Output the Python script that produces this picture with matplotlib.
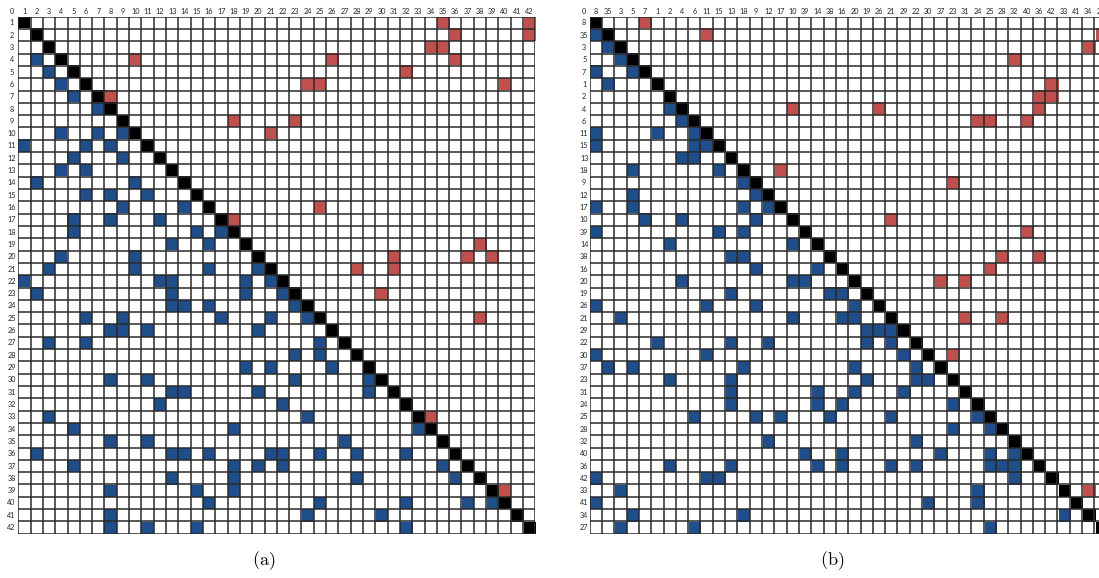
import numpy as np
import matplotlib
matplotlib.use("Agg")
import matplotlib.pyplot as plt
from matplotlib.colors import ListedColormap

plt.rcParams['mathtext.fontset'] = 'cm'

# node labels of the original ordering (a) and the reordered one (b)
nodes = list(range(1, 43))
order_b = [8, 35, 3, 5, 7, 1, 2, 4, 6, 11, 15, 13, 18, 9, 12, 17, 10, 39, 14, 38,
           16, 20, 19, 26, 21, 29, 22, 30, 37, 23, 31, 24, 25, 28, 32, 40, 36, 42,
           33, 41, 34, 27]

# marked cells of matrix (a): row -> columns
links = {
    1: [35, 42], 2: [36, 42], 3: [34, 35], 4: [2, 10, 26, 36], 5: [3, 32],
    6: [4, 24, 25, 40], 7: [5, 8], 8: [7], 9: [18, 23], 10: [4, 7, 9, 21],
    11: [1, 6, 8], 12: [5, 9], 13: [4, 6], 14: [2, 10], 15: [6, 8, 11],
    16: [9, 14, 25], 17: [5, 8, 12, 18], 18: [5, 15, 17], 19: [13, 16, 38],
    20: [4, 10, 31, 37, 39], 21: [3, 10, 16, 20, 28, 31], 22: [1, 12, 13, 19, 21],
    23: [2, 13, 19, 22, 30], 24: [13, 14, 16, 23], 25: [6, 9, 17, 21, 24, 38],
    26: [8, 9, 11, 20], 27: [3, 6, 25], 28: [23, 25], 29: [19, 21, 26],
    30: [8, 11, 23, 29], 31: [13, 14, 20, 29], 32: [12, 22], 33: [3, 24, 34],
    34: [5, 18, 33], 35: [8, 11, 27], 36: [2, 13, 14, 16, 21, 22, 25, 28, 32],
    37: [5, 18, 20, 22, 35], 38: [13, 18, 28, 36], 39: [8, 15, 18, 40],
    40: [16, 25, 32, 37, 39], 41: [8, 24, 30], 42: [8, 11, 15, 32],
}

cmap = ListedColormap(['white', '#1F4E8A', '#C0504D', 'black'])


def build(order):
    n = len(order)
    pos = {lab: k for k, lab in enumerate(order)}
    M = np.zeros((n, n), dtype=int)
    for k in range(n):
        M[k, k] = 3
    for r, cols in links.items():
        for c in cols:
            i, j = pos[r], pos[c]
            M[i, j] = 1 if j < i else 2
    return M


def draw(ax, order, lab_x):
    n = len(order)
    M = build(order)
    ax.imshow(M, cmap=cmap, vmin=0, vmax=3, extent=(0, n, n, 0),
              interpolation='nearest', aspect='auto')
    ax.hlines(np.arange(n + 1), 0, n, color='#2a2a2a', lw=1.1)
    ax.vlines(np.arange(n + 1), 0, n, color='#2a2a2a', lw=1.1)
    ax.set_xlim(0, n)
    ax.set_ylim(n, 0)
    ax.axis('off')
    kw = dict(fontsize=5.2, family='Lato', color='#222222', ha='center',
              va='center', clip_on=False)
    ax.text(lab_x, -0.42, '0', **kw)
    for k, lab in enumerate(order):
        ax.text(k + 0.5, -0.42, str(lab), **kw)
        ax.text(lab_x, k + 0.5, str(lab), **kw)


fig = plt.figure(figsize=(10.99, 5.78), dpi=100)
W, H = 1099, 578
cell = 12.31
ax1 = fig.add_axes([18.3 / W, 1 - (16.7 + 42 * cell) / H, 42 * cell / W, 42 * cell / H])
ax2 = fig.add_axes([589.7 / W, 1 - (16.7 + 42 * cell) / H, 42 * cell / W, 42 * cell / H])
draw(ax1, nodes, -0.55)
draw(ax2, order_b, -0.45)

fig.text(264 / W, 1 - 561 / H, r'$\mathrm{(a)}$', fontsize=13, ha='center', va='center')
fig.text(832 / W, 1 - 561 / H, r'$\mathrm{(b)}$', fontsize=13, ha='center', va='center')

fig.savefig('out.png', dpi=100)
